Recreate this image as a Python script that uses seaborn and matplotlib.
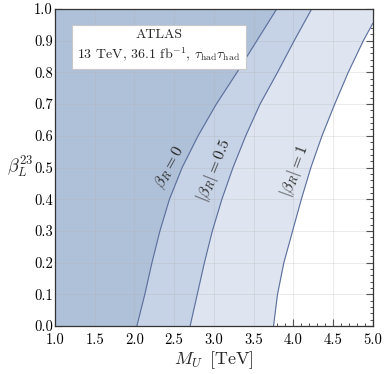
import numpy as np
import pandas as pd
import matplotlib
matplotlib.use("Agg")
import matplotlib.pyplot as plt
import seaborn as sns
from matplotlib.ticker import MultipleLocator

# ---- data ----
beta_L = [0.0, 0.1, 0.2, 0.3, 0.4, 0.5, 0.6, 0.7, 0.8, 0.9, 1.0]
mu_br0 = [2.03, 2.13, 2.22, 2.32, 2.44, 2.60, 2.80, 3.03, 3.29, 3.54, 3.79]
mu_br05 = [2.70, 2.79, 2.88, 2.98, 3.10, 3.24, 3.40, 3.58, 3.80, 4.01, 4.23]
beta_L_br1 = [0.0, 0.1, 0.2, 0.3, 0.4, 0.5, 0.6, 0.7, 0.8, 0.9, 0.955]
mu_br1 = [3.75, 3.80, 3.88, 3.99, 4.10, 4.22, 4.36, 4.52, 4.69, 4.88, 5.0]

x_ticks = [1.0, 1.5, 2.0, 2.5, 3.0, 3.5, 4.0, 4.5, 5.0]
y_ticks = [0.0, 0.1, 0.2, 0.3, 0.4, 0.5, 0.6, 0.7, 0.8, 0.9, 1.0]

curve_labels = [r"$\beta_R = 0$", r"$|\beta_R| = 0.5$", r"$|\beta_R| = 1$"]

sns.set_theme(style="ticks")
plt.rcParams["font.family"] = ["cmr10", "DejaVu Serif"]
plt.rcParams["mathtext.fontset"] = "cm"
plt.rcParams["axes.formatter.use_mathtext"] = True
plt.rcParams["axes.unicode_minus"] = False

fig = plt.figure(figsize=(3.9, 3.74), dpi=100)
ax = fig.add_axes([0.141, 0.128, 0.815, 0.848])

fills = ["#dfe5f0", "#c6d2e5", "#afc0d9"]
line_color = "#5b6f9c"

# fills (left of each curve)
ax.fill_betweenx(beta_L_br1 + [1.0], mu_br1 + [5.0], 1.0, color=fills[0], lw=0, zorder=1)
ax.fill_betweenx(beta_L, mu_br05, 1.0, color=fills[1], lw=0, zorder=1.1)
ax.fill_betweenx(beta_L, mu_br0, 1.0, color=fills[2], lw=0, zorder=1.2)

df = pd.concat([
    pd.DataFrame({"M": mu_br0, "b": beta_L, "c": "0"}),
    pd.DataFrame({"M": mu_br05, "b": beta_L, "c": "0.5"}),
    pd.DataFrame({"M": mu_br1, "b": beta_L_br1, "c": "1"}),
])
sns.lineplot(data=df, x="M", y="b", hue="c", units="c", estimator=None, sort=False,
             palette=[line_color] * 3, lw=0.8, legend=False, ax=ax, zorder=3)

# grid
for xv in x_ticks:
    ax.axvline(xv, color="#b0b0b0", lw=0.5, alpha=0.35, zorder=2)
for yv in y_ticks:
    ax.axhline(yv, color="#b0b0b0", lw=0.5, alpha=0.35, zorder=2)

ax.set_xlim(1.0, 5.0)
ax.set_ylim(0.0, 1.0)
ax.set_xticks(x_ticks)
ax.set_yticks(y_ticks)
ax.set_xticklabels([f"{v:.1f}" for v in x_ticks])
ax.set_yticklabels([f"{v:.1f}" for v in y_ticks])
ax.xaxis.set_minor_locator(MultipleLocator(0.1))
ax.yaxis.set_minor_locator(MultipleLocator(0.02))
ax.tick_params(which="both", direction="in", top=True, right=True, colors="#333333",
               labelcolor="black", labelsize=10.5)
ax.tick_params(axis="x", pad=5)
ax.tick_params(axis="y", pad=1.5)
ax.tick_params(which="major", length=5, width=0.8)
ax.tick_params(which="minor", length=2.5, width=0.6)
for s in ax.spines.values():
    s.set_color("#333333")
    s.set_linewidth(0.9)
    s.set_zorder(5)

ax.set_xlabel(r"$M_U\ \,[\mathrm{TeV}]$", fontsize=13, labelpad=2)
ax.set_ylabel(r"$\beta_L^{23}$", fontsize=13, rotation=0, labelpad=10, va="center")

# curve labels
ax.text(2.45, 0.50, curve_labels[0], rotation=61, fontsize=11.5, ha="center", va="center", zorder=4)
ax.text(3.01, 0.49, curve_labels[1], rotation=68, fontsize=11.5, ha="center", va="center", zorder=4)
ax.text(4.02, 0.49, curve_labels[2], rotation=70, fontsize=11.5, ha="center", va="center", zorder=4)

# info box
ax.text(2.31, 0.884, "ATLAS\n" + r"13 TeV, 36.1 fb$^{-1}$, $\tau_{\rm had}\tau_{\rm had}$",
        ha="center", va="center", fontsize=10, linespacing=1.35, zorder=6,
        bbox=dict(boxstyle="square,pad=0.4", fc="white", ec="#c8c8c8", lw=0.8))

fig.savefig("out.png", dpi=100)
